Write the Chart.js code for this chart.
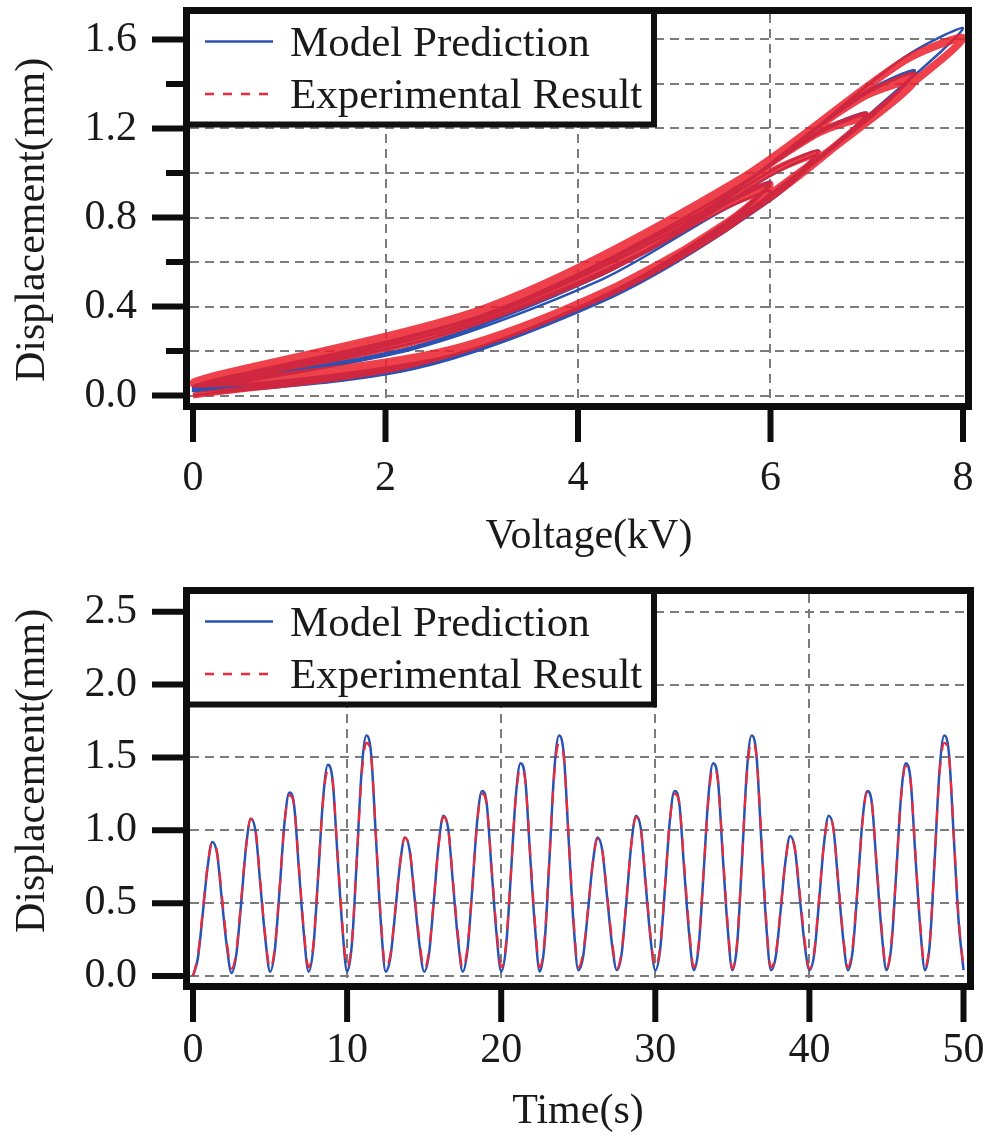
<!DOCTYPE html>
<html lang="en">
<head>
    <meta charset="UTF-8">
    <meta name="viewport" content="width=device-width, initial-scale=1.0">
    <title>Displacement</title>
    <style>
        body { margin: 0; background: #fff; }
        #histerese { position: absolute; left: 0; top: 0; }
        #tempo { position: absolute; left: 0; top: 570px; }
    </style>
</head>
<body>
    <canvas id="histerese" width="990" height="570"></canvas>
    <canvas id="tempo" width="990" height="571"></canvas>
    <script src="https://cdn.jsdelivr.net/npm/chart.js"></script>
    <script>
        // drive voltage (kV), 8 samples per 2.5 s cycle, amplitudes 6 / 6.5 / 7 / 7.5 / 8 kV
        const voltage = [
            0, 2.30, 4.24, 5.54, 6.00, 5.54, 4.24, 2.30,
            0, 2.49, 4.60, 6.01, 6.50, 6.01, 4.60, 2.49,
            0, 2.68, 4.95, 6.47, 7.00, 6.47, 4.95, 2.68,
            0, 2.87, 5.30, 6.93, 7.50, 6.93, 5.30, 2.87,
            0, 3.06, 5.66, 7.39, 8.00, 7.39, 5.66, 3.06,
            0, 2.30, 4.24, 5.54, 6.00, 5.54, 4.24, 2.30,
            0, 2.49, 4.60, 6.01, 6.50, 6.01, 4.60, 2.49,
            0, 2.68, 4.95, 6.47, 7.00, 6.47, 4.95, 2.68,
            0, 2.87, 5.30, 6.93, 7.50, 6.93, 5.30, 2.87,
            0, 3.06, 5.66, 7.39, 8.00, 7.39, 5.66, 3.06,
            0, 2.30, 4.24, 5.54, 6.00, 5.54, 4.24, 2.30,
            0, 2.49, 4.60, 6.01, 6.50, 6.01, 4.60, 2.49,
            0, 2.68, 4.95, 6.47, 7.00, 6.47, 4.95, 2.68,
            0, 2.87, 5.30, 6.93, 7.50, 6.93, 5.30, 2.87,
            0, 3.06, 5.66, 7.39, 8.00, 7.39, 5.66, 3.06,
            0, 2.30, 4.24, 5.54, 6.00, 5.54, 4.24, 2.30,
            0, 2.49, 4.60, 6.01, 6.50, 6.01, 4.60, 2.49,
            0, 2.68, 4.95, 6.47, 7.00, 6.47, 4.95, 2.68,
            0, 2.87, 5.30, 6.93, 7.50, 6.93, 5.30, 2.87,
            0, 3.06, 5.66, 7.39, 8.00, 7.39, 5.66, 3.06,
            0
        ]

        // displacement (mm)
        const dispModelo = [
            0.00, 0.12, 0.42, 0.74, 0.92, 0.84, 0.52, 0.21,
            0.02, 0.15, 0.50, 0.88, 1.08, 0.99, 0.62, 0.26,
            0.03, 0.18, 0.60, 1.05, 1.26, 1.17, 0.73, 0.30,
            0.03, 0.20, 0.69, 1.21, 1.45, 1.34, 0.83, 0.34,
            0.03, 0.22, 0.79, 1.40, 1.65, 1.52, 0.94, 0.37,
            0.03, 0.13, 0.44, 0.77, 0.95, 0.86, 0.54, 0.22,
            0.03, 0.15, 0.51, 0.90, 1.10, 1.01, 0.63, 0.26,
            0.03, 0.18, 0.60, 1.06, 1.27, 1.18, 0.73, 0.30,
            0.03, 0.20, 0.69, 1.22, 1.46, 1.35, 0.83, 0.34,
            0.03, 0.22, 0.79, 1.40, 1.65, 1.52, 0.94, 0.37,
            0.04, 0.13, 0.44, 0.77, 0.95, 0.86, 0.54, 0.22,
            0.04, 0.15, 0.51, 0.90, 1.10, 1.01, 0.63, 0.26,
            0.04, 0.18, 0.60, 1.06, 1.27, 1.18, 0.73, 0.30,
            0.04, 0.20, 0.69, 1.22, 1.46, 1.35, 0.83, 0.34,
            0.04, 0.22, 0.79, 1.40, 1.65, 1.52, 0.94, 0.37,
            0.04, 0.13, 0.44, 0.78, 0.96, 0.87, 0.54, 0.22,
            0.04, 0.15, 0.51, 0.90, 1.10, 1.01, 0.63, 0.26,
            0.04, 0.18, 0.60, 1.06, 1.27, 1.18, 0.73, 0.30,
            0.04, 0.20, 0.69, 1.22, 1.46, 1.35, 0.83, 0.34,
            0.04, 0.22, 0.79, 1.40, 1.65, 1.52, 0.94, 0.37,
            0.04
        ]

        const dispExperimento = [
            0.00, 0.14, 0.44, 0.75, 0.92, 0.85, 0.55, 0.24,
            0.05, 0.17, 0.52, 0.89, 1.08, 1.00, 0.64, 0.28,
            0.05, 0.20, 0.61, 1.05, 1.24, 1.17, 0.75, 0.32,
            0.06, 0.22, 0.70, 1.20, 1.41, 1.33, 0.85, 0.36,
            0.06, 0.24, 0.79, 1.37, 1.60, 1.50, 0.96, 0.40,
            0.06, 0.15, 0.45, 0.78, 0.95, 0.87, 0.56, 0.25,
            0.05, 0.17, 0.52, 0.90, 1.09, 1.01, 0.65, 0.29,
            0.05, 0.20, 0.61, 1.05, 1.25, 1.17, 0.75, 0.33,
            0.06, 0.22, 0.70, 1.21, 1.43, 1.34, 0.85, 0.37,
            0.06, 0.25, 0.80, 1.38, 1.60, 1.50, 0.96, 0.40,
            0.06, 0.16, 0.45, 0.77, 0.94, 0.86, 0.56, 0.25,
            0.05, 0.17, 0.52, 0.90, 1.09, 1.01, 0.65, 0.28,
            0.06, 0.20, 0.61, 1.06, 1.25, 1.18, 0.76, 0.33,
            0.06, 0.22, 0.70, 1.20, 1.43, 1.34, 0.86, 0.37,
            0.05, 0.24, 0.80, 1.38, 1.61, 1.51, 0.97, 0.40,
            0.06, 0.15, 0.45, 0.78, 0.95, 0.87, 0.57, 0.25,
            0.05, 0.17, 0.53, 0.90, 1.09, 1.01, 0.65, 0.28,
            0.06, 0.21, 0.61, 1.05, 1.26, 1.17, 0.75, 0.33,
            0.05, 0.22, 0.70, 1.21, 1.44, 1.34, 0.85, 0.36,
            0.06, 0.24, 0.80, 1.38, 1.60, 1.50, 0.96, 0.39,
            0.06
        ]

        const passoTempo = 0.3125   // s between samples
        const tempoS = dispModelo.map((_, i) => i * passoTempo)

        const labelModelo = 'Model Prediction'
        const labelExperimento = 'Experimental Result'

        const ticksVolt = [0, 2, 4, 6, 8]
        const ticksDispSup = [0, 0.2, 0.4, 0.6, 0.8, 1.0, 1.2, 1.4, 1.6]
        const rotulosDispSup = [0, 0.4, 0.8, 1.2, 1.6]
        const ticksTempo = [0, 10, 20, 30, 40, 50]
        const ticksDispInf = [0, 0.5, 1.0, 1.5, 2.0, 2.5]

        const fonte = 'Liberation Serif'
        const corTexto = '#1a1a1a'
        const azul = '#2a52b2'
        const vermelho = '#ec2a3a'
        const cinzaGrade = '#7c7c7c'

        // frame, outside ticks, boxed legend and axis titles
        const moldura = (cfg) => ({
            id: 'moldura',
            afterDraw(chart) {
                const { ctx, chartArea: a, scales: { x, y } } = chart
                ctx.save()

                // legend box
                const lx = a.left - 3.5, ly = a.top - 3.5
                ctx.fillStyle = '#fff'
                ctx.fillRect(lx, ly, 467.5, 114)
                ctx.lineWidth = 6
                ctx.strokeStyle = '#111'
                ctx.strokeRect(lx, ly, 467.5, 114)

                const itens = [
                    { texto: labelModelo, cor: azul, dash: [], yy: a.top + 27.5 },
                    { texto: labelExperimento, cor: vermelho, dash: [9, 9], yy: a.top + 80 }
                ]
                itens.forEach(it => {
                    ctx.beginPath()
                    ctx.lineWidth = 2.5
                    ctx.strokeStyle = it.cor
                    ctx.setLineDash(it.dash)
                    ctx.moveTo(205, it.yy)
                    ctx.lineTo(273, it.yy)
                    ctx.stroke()
                    ctx.setLineDash([])
                    ctx.fillStyle = corTexto
                    ctx.font = `43px "${fonte}"`
                    ctx.textAlign = 'left'
                    ctx.textBaseline = 'alphabetic'
                    ctx.fillText(it.texto, 290, it.yy + 14)
                })

                // frame
                ctx.lineWidth = 7
                ctx.strokeStyle = '#0d0d0d'
                ctx.strokeRect(a.left - 3.5, a.top - 3.5, a.right - a.left + 7, a.bottom - a.top + 7)

                // ticks
                ctx.lineWidth = 6
                y.ticks.forEach(t => {
                    const py = y.getPixelForValue(t.value)
                    const len = cfg.yMaiores.includes(t.value) ? 34 : 20
                    ctx.beginPath()
                    ctx.moveTo(a.left - 4, py)
                    ctx.lineTo(a.left - 4 - len, py)
                    ctx.stroke()
                })
                x.ticks.forEach(t => {
                    const px = x.getPixelForValue(t.value)
                    ctx.beginPath()
                    ctx.moveTo(px, a.bottom + 4)
                    ctx.lineTo(px, a.bottom + 39)
                    ctx.stroke()
                })

                // axis titles
                ctx.fillStyle = corTexto
                ctx.font = `42px "${fonte}"`
                ctx.textAlign = 'center'
                ctx.textBaseline = 'middle'
                ctx.fillText(cfg.tituloX, cfg.xTitulo[0], cfg.xTitulo[1])
                ctx.translate(cfg.yTitulo[0], cfg.yTitulo[1])
                ctx.rotate(-Math.PI / 2)
                ctx.fillText('Displacement(mm)', 0, 0)

                ctx.restore()
            }
        })

        const fonteTicks = { family: fonte, size: 42 }
        const gradeSemBordas = c => (c.index === 0 || c.index === c.scale.ticks.length - 1) ? 'rgba(0,0,0,0)' : cinzaGrade

        // the label padding must not spill into the layout, the plot box is fixed
        const eixoX = (min, max, ticks, altura, padding) => ({
            type: 'linear',
            min: min,
            max: max,
            afterBuildTicks: s => { s.ticks = ticks.map(v => ({ value: v })) },
            afterFit: s => { s.height = altura; s.paddingLeft = 0; s.paddingRight = 0 },
            grid: { color: gradeSemBordas, lineWidth: 2, drawTicks: false },
            border: { display: false, dash: [9, 6] },
            ticks: { padding: padding, font: fonteTicks, color: corTexto, maxRotation: 0, autoSkip: false, callback: v => String(v) }
        })

        const eixoY = (min, max, ticks, rotulos) => ({
            type: 'linear',
            min: min,
            max: max,
            afterBuildTicks: s => { s.ticks = ticks.map(v => ({ value: v })) },
            afterFit: s => { s.width = 190; s.paddingTop = 0; s.paddingBottom = 0 },
            grid: { color: cinzaGrade, lineWidth: 2, drawTicks: false },
            border: { display: false, dash: [9, 6] },
            ticks: {
                padding: 53, font: fonteTicks, color: corTexto, autoSkip: false,
                callback: v => rotulos.includes(v) ? v.toFixed(1) : ''
            }
        })

        // displacement vs voltage
        const graficoHisterese = new Chart(document.getElementById('histerese'), {
            type: 'scatter',
            data: {
                datasets: [
                    {
                        label: labelModelo,
                        data: voltage.map((v, i) => ({ x: v, y: dispModelo[i] })),
                        showLine: true,
                        borderColor: azul,
                        borderWidth: 2.5,
                        tension: 0.3,
                        order: 2
                    },
                    {
                        label: labelExperimento,
                        data: voltage.map((v, i) => ({ x: v, y: dispExperimento[i] })),
                        showLine: true,
                        borderColor: 'rgba(236, 32, 44, 0.85)',
                        borderWidth: 6,
                        tension: 0.3,
                        order: 1
                    }
                ]
            },
            options: {
                responsive: false,
                animation: false,
                layout: { padding: { left: 0, top: 14, right: 25, bottom: 0 } },
                elements: { point: { radius: 0 } },
                plugins: { legend: { display: false }, tooltip: { enabled: false } },
                scales: {
                    x: eixoX(-0.0312, 8.0208, ticksVolt, 570 - 403, 51),
                    y: eixoY(-0.0337, 1.7146, ticksDispSup, rotulosDispSup)
                }
            },
            plugins: [moldura({ yMaiores: rotulosDispSup, tituloX: 'Voltage(kV)', xTitulo: [589, 537], yTitulo: [33, 220] })]
        })

        // displacement vs time
        const graficoTempo = new Chart(document.getElementById('tempo'), {
            type: 'line',
            data: {
                datasets: [
                    {
                        label: labelModelo,
                        data: tempoS.map((t, i) => ({ x: t, y: dispModelo[i] })),
                        borderColor: azul,
                        borderWidth: 2.5,
                        cubicInterpolationMode: 'monotone',
                        order: 2
                    },
                    {
                        label: labelExperimento,
                        data: tempoS.map((t, i) => ({ x: t, y: dispExperimento[i] })),
                        borderColor: vermelho,
                        borderWidth: 2.2,
                        borderDash: [13, 11],
                        cubicInterpolationMode: 'monotone',
                        order: 1
                    }
                ]
            },
            options: {
                responsive: false,
                animation: false,
                layout: { padding: { left: 0, top: 24, right: 23, bottom: 0 } },
                elements: { point: { radius: 0 } },
                plugins: { legend: { display: false }, tooltip: { enabled: false } },
                scales: {
                    x: eixoX(-0.195, 50.227, ticksTempo, 571 - 413, 43),
                    y: eixoY(-0.048, 2.6215, ticksDispInf, ticksDispInf)
                }
            },
            plugins: [moldura({ yMaiores: ticksDispInf, tituloX: 'Time(s)', xTitulo: [578, 542], yTitulo: [33, 201] })]
        })
    </script>
</body>
</html>
